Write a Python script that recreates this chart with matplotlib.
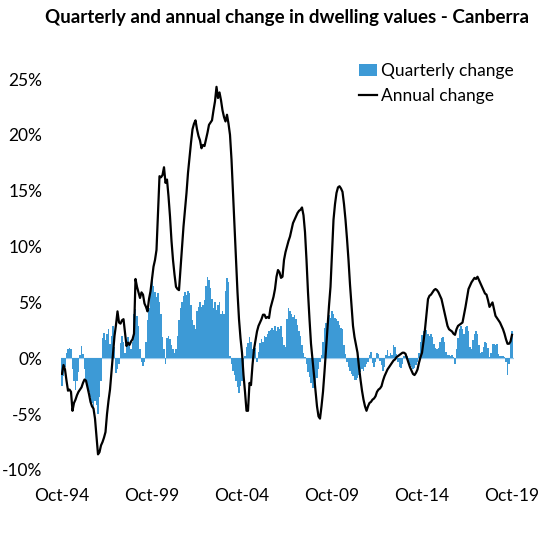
import matplotlib
matplotlib.use("Agg")
import matplotlib.pyplot as plt
import numpy as np

plt.rcParams['font.family'] = ['Lato', 'DejaVu Sans']

title = "Quarterly and annual change in dwelling values - Canberra"
tick_labels = ["Oct-94", "Oct-99", "Oct-04", "Oct-09", "Oct-14", "Oct-19"]
y_ticks = [-10, -5, 0, 5, 10, 15, 20, 25]

# Monthly values, Oct-94 .. Oct-19 (one row per year starting in October)
annual_change = [
    -1.4, -0.6, -1.0, -2.0, -2.9, -2.8, -3.0, -4.7, -4.0, -3.7, -3.3, -3.0,
    -2.8, -2.6, -2.2, -1.9, -2.0, -2.6, -3.2, -3.9, -4.3, -4.5, -5.4, -7.0,
    -8.6, -8.4, -7.8, -7.5, -7.1, -6.6, -5.0, -3.8, -2.8, -1.2, 0.5, 2.0,
    3.0, 4.2, 3.2, 3.1, 3.4, 3.5, 2.3, 1.1, 1.4, 1.2, 1.5, 1.7,
    2.2, 7.1, 6.4, 5.9, 5.4, 5.9, 5.7, 4.9, 4.6, 4.2, 5.3, 6.0,
    7.1, 8.2, 8.8, 9.7, 13.0, 16.3, 16.2, 16.4, 17.1, 15.7, 16.0, 14.5,
    12.7, 10.5, 8.8, 7.5, 6.4, 6.2, 6.1, 8.0, 10.0, 11.8, 13.3, 14.8,
    16.6, 18.0, 19.3, 20.5, 21.0, 21.3, 20.5, 19.9, 19.5, 18.8, 19.1, 19.0,
    19.6, 20.2, 20.9, 21.1, 21.3, 22.2, 23.0, 24.3, 23.3, 23.8, 23.1, 22.2,
    21.6, 21.2, 21.8, 21.0, 20.0, 17.8, 14.8, 11.8, 8.8, 5.9, 3.5, 1.8,
    0.5, -1.5, -3.0, -4.7, -4.7, -2.2, -2.4, -0.6, 0.8, 1.6, 2.4, 2.9,
    3.2, 3.5, 3.9, 3.9, 3.6, 3.7, 3.6, 4.5, 5.0, 5.5, 6.2, 7.3,
    7.9, 7.7, 7.2, 7.3, 8.8, 9.5, 10.0, 10.5, 10.9, 11.5, 12.1, 12.4,
    12.7, 13.0, 13.2, 13.3, 13.5, 12.8, 11.3, 8.8, 5.9, 3.5, 1.3, -0.1,
    -1.6, -3.0, -4.3, -5.2, -5.4, -4.3, -3.0, -1.2, 0.8, 2.8, 4.7, 6.4,
    9.5, 12.4, 13.8, 14.8, 15.3, 15.4, 15.2, 14.9, 13.8, 12.4, 10.7, 8.8,
    6.6, 4.8, 2.9, 1.9, 1.2, 0.5, -0.8, -1.9, -2.9, -3.7, -4.3, -4.7,
    -4.3, -4.0, -3.9, -3.7, -3.6, -3.4, -3.0, -2.8, -2.7, -2.5, -2.0, -1.6,
    -1.3, -1.0, -0.8, -0.6, -0.4, -0.2, -0.1, 0.1, 0.2, 0.3, 0.4, 0.5,
    0.5, 0.4, 0.0, -0.4, -0.8, -1.1, -1.4, -1.5, -1.3, -1.0, -0.4, 0.1,
    0.5, 1.5, 2.6, 4.0, 5.3, 5.6, 5.7, 5.9, 6.1, 6.2, 6.1, 5.9,
    5.6, 5.3, 4.7, 4.1, 3.5, 2.9, 2.6, 2.5, 2.4, 2.2, 2.1, 2.6,
    2.9, 3.0, 3.1, 3.2, 3.9, 4.6, 5.4, 6.2, 6.5, 6.8, 7.0, 7.2,
    7.1, 7.3, 7.0, 6.7, 6.4, 6.1, 5.8, 5.7, 5.2, 4.6, 4.8, 5.0,
    4.4, 3.8, 3.6, 3.4, 3.2, 2.9, 2.6, 2.2, 1.7, 1.3, 1.3, 1.5,
    2.1,
]

quarterly_change = [
    -2.5, -1.6, -0.8, 0.5, 0.8, 0.9, 0.8, -1.0, -2.0, -2.8, -2.0, -1.2,
    0.3, 1.1, 0.4, -1.0, -2.0, -2.5, -3.0, -3.5, -4.0, -4.5, -3.8, -4.2,
    -5.0, -3.5, -2.0, 1.8, 2.3, 1.6, 2.2, 2.6, 1.3, 2.0, 2.9, 1.0,
    -1.3, -1.0, -0.5, 1.4, 2.0, 1.5, 0.5, 1.0, 1.9, 1.2, 0.8, 1.5,
    4.0, 4.4, 3.8, 2.9, 0.8, -0.3, -0.7, -0.3, 1.5, 3.4, 4.5, 5.8,
    7.3, 6.5, 5.9, 5.5, 5.8, 5.0, 4.0, 1.9, 0.8, -0.5, 1.8, 2.0,
    1.7, 1.2, 0.8, 0.5, 0.8, 2.0, 3.4, 4.5, 5.0, 5.6, 5.9, 5.7,
    6.0, 5.8, 4.8, 3.4, 3.0, 2.6, 4.2, 4.6, 5.0, 4.6, 4.8, 5.2,
    6.5, 7.3, 7.0, 6.3, 5.3, 4.5, 5.0, 4.3, 4.8, 5.0, 4.0, 4.2,
    4.0, 6.0, 7.2, 6.8, 0.2, -0.5, -1.1, -1.5, -2.0, -2.6, -3.1, -2.5,
    -2.0, -0.8, 0.2, 1.0, 1.4, 1.9, 1.5, 0.8, 0.6, 0.9, -0.3, 0.6,
    1.4, 1.7, 1.5, 2.0, 1.9, 2.2, 2.4, 2.5, 2.7, 2.5, 2.9, 2.4,
    2.8, 2.6, 2.9, 1.9, 1.2, 1.0, 3.5, 4.5, 4.2, 4.0, 3.7, 3.9,
    3.5, 3.0, 2.4, 2.0, 1.2, 0.5, 0.1, -0.5, -1.2, -1.7, -2.2, -2.7,
    -2.7, -2.3, -1.8, -1.0, -0.3, 0.3, 1.5, 2.7, 3.2, 3.5, 3.9, 3.6,
    4.2, 4.0, 3.6, 3.5, 3.3, 3.0, 2.7, 2.6, 1.2, 0.4, -0.3, -0.8,
    -1.1, -1.4, -1.6, -1.9, -1.9, -1.8, -1.5, -1.2, -1.0, -1.1, -0.8, -0.5,
    -0.3, 0.3, 0.6, -0.4, -0.8, -0.3, 0.5, 0.4, -0.2, -0.6, -1.1, -0.8,
    0.3, 0.7, 0.2, 0.5, 0.3, 1.2, 1.0, 0.4, -0.3, -0.8, -0.9, -0.5,
    0.2, 0.4, 0.2, -0.2, -0.6, -0.8, -1.0, -0.9, -0.6, -0.3, 0.5, 1.5,
    2.1, 2.4, 2.6, 2.5, 2.2, 2.0, 2.2, 1.9, 1.3, 0.9, 0.8, 0.9,
    1.5, 1.8, 1.9, 1.5, 0.6, 0.3, 0.3, 0.2, 0.3, 0.1, -0.5, 0.8,
    1.8, 2.6, 2.9, 2.6, 2.2, 2.8, 2.9, 2.4, 1.0, 0.8, 1.6, 2.2,
    2.4, 2.2, 1.2, 0.5, 0.6, 1.0, 1.5, 1.4, 0.9, 0.1, 0.5, 1.3,
    1.3, 1.2, 1.3, 0.4, 0.2, 0.2, 0.2, 0.1, -0.3, -1.5, -0.5, 1.5,
    2.4,
]

months = np.arange(len(annual_change))
tick_pos = np.arange(0, len(annual_change), 60)

fig = plt.figure(figsize=(5.51, 5.38), dpi=100)
ax = fig.add_axes([60.5 / 551, (538 - 470) / 538, 453 / 551, (470 - 79) / 538])

ax.axhline(0, color='#9ccbec', lw=0.9, zorder=1)
bars = ax.bar(months, quarterly_change, width=1.0, color='#3d9ad6', linewidth=0,
              label='Quarterly change', zorder=2)
line, = ax.plot(months, annual_change, color='black', lw=1.6,
                label='Annual change', zorder=3)

ax.set_xlim(-1, 301)
ax.set_ylim(-10, 25)
ax.set_yticks(y_ticks)
ax.set_yticklabels([f"{v}%" for v in y_ticks])
ax.set_xticks(tick_pos)
ax.set_xticklabels(tick_labels)
ax.tick_params(axis='both', length=0, labelsize=12.5, colors='black')
ax.tick_params(axis='y', pad=13)
ax.tick_params(axis='x', pad=13)
for s in ax.spines.values():
    s.set_visible(False)

leg = ax.legend(handles=[bars, line], labels=['Quarterly change', 'Annual change'],
                loc='upper right', bbox_to_anchor=(1.0, 1.04), frameon=False,
                fontsize=12.5, handlelength=1.05, handletextpad=0.2,
                labelspacing=0.5, borderaxespad=0, borderpad=0)

fig.text(287 / 551, 1 - 18 / 538, title, ha='center', va='center',
         fontsize=13.5, fontweight='bold')

fig.savefig('out.png', dpi=100, facecolor='white')
